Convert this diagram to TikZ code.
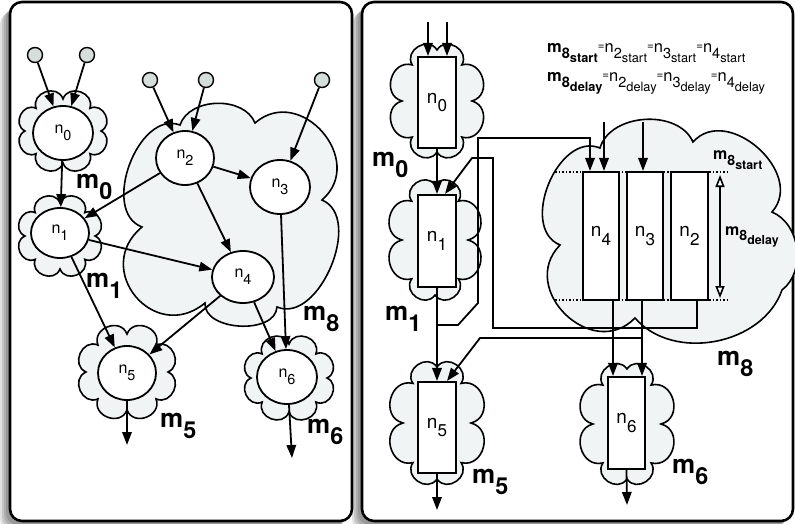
\documentclass[tikz,border=0pt]{standalone}
\usepackage{fontspec}
\setmainfont{TeX Gyre Heros}
\usepackage{graphicx}
\usetikzlibrary{shapes.geometric,arrows.meta,calc}
\definecolor{cloudfill}{RGB}{240,244,245}
\definecolor{termfill}{RGB}{214,222,220}
\newcommand\dn[1]{\raisebox{-0.45em}{\scalebox{0.9}{#1}}}
\newcommand\dd[1]{\raisebox{-0.32em}{\scalebox{0.88}{#1}}}
\newcommand\eqs{\raisebox{0.2em}{\scalebox{0.7}{=}}}
% cloud: centre x, centre y, notch radius x, notch radius y, puffs, start angle
\newcommand\puffcloud[6]{%
  \draw[bigcloud] ({#1+#3*cos(#6)},{#2+#4*sin(#6)})
    \foreach \k in {1,...,#5}{ to[bend left=90,looseness=1.5] ({#1+#3*cos(#6+360*\k/#5)},{#2+#4*sin(#6+360*\k/#5)}) } -- cycle;}
\begin{document}
\begin{tikzpicture}[x=1pt,y=-1pt,
  arr/.style={line width=1.8pt,-{Triangle[length=13pt,width=9.5pt]}},
  ell/.style={ellipse,draw,fill=white,line width=1.8pt,inner sep=0pt,font=\fontsize{16}{18}\selectfont},
  term/.style={circle,draw,fill=termfill,line width=1.4pt,minimum size=15pt,inner sep=0pt},
  bigcloud/.style={draw,fill=cloudfill,line width=1.6pt},
  box/.style={rectangle,draw,fill=white,line width=2.1pt,inner sep=0pt,font=\fontsize{19}{21}\selectfont},
  mlab/.style={font=\fontsize{26}{28}\selectfont\bfseries,anchor=base west,inner sep=0pt},
  slab/.style={font=\fontsize{16}{18}\selectfont\bfseries,anchor=base west,inner sep=0pt},
  formula/.style={font=\fontsize{16.5}{18}\selectfont,anchor=base west,inner sep=0pt},
  panel/.style={draw,fill=white,line width=2.6pt,rounded corners=12pt},
  dots/.style={dotted,line width=1.5pt},
]
\useasboundingbox (0,0) rectangle (795,524);
% shadows
\foreach \s in {10,8,6,4}{
  \fill[black,opacity=0.12,rounded corners=12pt] (10-\s,2+\s) rectangle (352-\s,521+\s);
  \fill[black,opacity=0.12,rounded corners=12pt] (362-\s,2+\s) rectangle (793-\s,521+\s);
}
\draw[panel] (10,2) rectangle (352,521);
\draw[panel] (362,2) rectangle (793,521);

% ---------------- left panel ----------------
\draw[bigcloud] (180,125) to[bend left=70] (255,123) to[bend left=90,looseness=1.5] (322,200)
  to[bend left=90] (277,307) to[bend left=90] (205,303) to[bend left=90,looseness=1.7] (142,227)
  to[bend left=90,looseness=1.05] (180,125) -- cycle;
\puffcloud{63}{131}{38}{32}{8}{270}
\puffcloud{60}{236}{35}{33}{8}{270}
\puffcloud{127}{372}{41}{38}{8}{270}
\puffcloud{289}{378}{38}{34}{8}{270}

\node[term] (t1) at (35,55) {};
\node[term] (t2) at (87,55) {};
\node[term] (t3) at (150,80) {};
\node[term] (t4) at (206,80) {};
\node[term] (t5) at (322,80) {};

\node[ell,minimum width=60pt,minimum height=54pt] (n0) at (63,133) {n\dn{0}};
\node[ell,minimum width=58pt,minimum height=50pt] (n1) at (60,233) {n\dn{1}};
\node[ell,minimum width=58pt,minimum height=54pt] (n2) at (185,158) {n\dn{2}};
\node[ell,minimum width=60pt,minimum height=54pt] (n3) at (280,187) {n\dn{3}};
\node[ell,minimum width=62pt,minimum height=52pt] (n4) at (243,277) {n\dn{4}};
\node[ell,minimum width=58pt,minimum height=54pt] (n5) at (127,373) {n\dn{5}};
\node[ell,minimum width=60pt,minimum height=54pt] (n6) at (287,377) {n\dn{6}};

\draw[arr] (t1) -- (n0);
\draw[arr] (t2) -- (n0);
\draw[arr] (t3) -- (n2);
\draw[arr] (t4) -- (n2);
\draw[arr] (t5) -- (n3);
\draw[arr] (n0) -- (n1);
\draw[arr] (n2) -- (n1);
\draw[arr] (n2) -- (n3);
\draw[arr] (n2) -- (n4);
\draw[arr] (n1) -- (n4);
\draw[arr] (n1) -- (n5);
\draw[arr] (n4) -- (n5);
\draw[arr] (n4) -- (n6);
\draw[arr] (n3) -- (n6);
\coordinate (o5) at (127,445);
\coordinate (o6) at (292,458);
\draw[arr] (n5.south) -- (o5);
\draw[arr] ([xshift=2pt]n6.south) -- (o6);

\node[mlab] (lm0) at (76,188) {m\dn{0}};
\node[mlab] (lm1) at (86,287) {m\dn{1}};
\node[mlab] (lm8) at (303,320) {m\dn{8}};
\node[mlab] (lm5) at (160,427) {m\dn{5}};
\node[mlab] (lm6) at (307,433) {m\dn{6}};

% ---------------- right panel ----------------
\draw[bigcloud] (600,148) to[bend left=70] (693,142) to[bend left=90,looseness=1.25] (772,212)
  to[bend left=60] (782,290) to[bend left=60] (635,318) to[bend left=90,looseness=1.5] (560,245)
  to[bend left=90,looseness=1.1] (600,148) -- cycle;
\puffcloud{437}{101}{35}{51}{8}{270}
\puffcloud{435}{240}{33}{55}{8}{270}
\puffcloud{437}{423}{34}{56}{8}{270}
\puffcloud{627}{424}{34}{55}{8}{270}

\draw[dots] (555,172) -- (730,172);
\draw[dots] (555,300) -- (730,300);

\node[box,minimum width=38pt,minimum height=91pt] (r0) at (437,102.5) {n\dn{0}};
\node[box,minimum width=38pt,minimum height=92pt] (r1) at (437,241) {n\dn{1}};
\node[box,minimum width=38pt,minimum height=91pt] (r5) at (437,427.5) {n\dn{5}};
\node[box,minimum width=37pt,minimum height=92pt] (r6) at (626.5,423) {n\dn{6}};
\node[box,minimum width=36pt,minimum height=128pt] (r4) at (601,236) {n\dn{4}};
\node[box,minimum width=36pt,minimum height=128pt] (r3) at (645,236) {n\dn{3}};
\node[box,minimum width=37pt,minimum height=128pt] (r2) at (689.5,236) {n\dn{2}};

\coordinate (i1) at (428,22);
\coordinate (i2) at (447,22);
\coordinate (i3) at (604,122);
\coordinate (i4) at (643,122);
\draw[arr] (i1) -- (i1 |- r0.north);
\draw[arr] (i2) -- (i2 |- r0.north);
\draw[arr] (i3) -- (i3 |- r4.north);
\draw[arr] (i4) -- (i4 |- r3.north);
\draw[arr] (r0) -- (r1);
\draw[arr] (r1) -- (r5);
\coordinate (j1) at (437,325);
\draw[arr] (j1) -- (458,325) -- (478,303) -- (478,138) -- (590,138) -- (590,172 |- r4.north);
\draw[arr] ([xshift=7.5pt]r2.south) -- (697,328) -- (493,328) -- (493,158) -- (472,158) -- ([xshift=8pt]r1.north);
\draw[arr] ([xshift=-3pt]r3.south) -- ([xshift=-3pt]r3.south |- r6.north);
\draw[arr] ([xshift=12pt]r4.south) -- ([xshift=12pt]r4.south |- r6.north);
\coordinate (j2) at (642,338);
\draw[arr] (j2) -- (480,338) -- ([xshift=10pt]r5.north);
\coordinate (o5r) at (437,510);
\coordinate (o6r) at (627,505);
\draw[arr] (r5) -- (o5r);
\draw[arr] (r6.south) -- (o6r);

\coordinate (d1) at (720,175);
\coordinate (d2) at (720,298);
\draw[line width=1.6pt,{Triangle[open,fill=white,length=12pt,width=9pt]}-{Triangle[open,fill=white,length=12pt,width=9pt]}] (d1) -- (d2);

\node[mlab] (rm0) at (372,166) {m\dn{0}};
\node[mlab] (rm1) at (385,320) {m\dn{1}};
\node[mlab] (rm5) at (472,483) {m\dn{5}};
\node[mlab] (rm6) at (672,473) {m\dn{6}};
\node[mlab] (rm8) at (717,365) {m\dn{8}};
\node[slab] (ms) at (713,160) {m\dd{8\dd{start}}};
\node[slab] (md) at (725,235) {m\dd{8\dd{delay}}};

\node[formula] (f1) at (547,53) {\textbf{m}\dd{\textbf{8}\dd{\textbf{start}}}\eqs n\dd{2\dd{start}}\eqs n\dd{3\dd{start}}\eqs n\dd{4\dd{start}}};
\node[formula] (f2) at (547,82) {\textbf{m}\dd{\textbf{8}\dd{\textbf{delay}}}\eqs n\dd{2\dd{delay}}\eqs n\dd{3\dd{delay}}\eqs n\dd{4\dd{delay}}};
\end{tikzpicture}
\end{document}
